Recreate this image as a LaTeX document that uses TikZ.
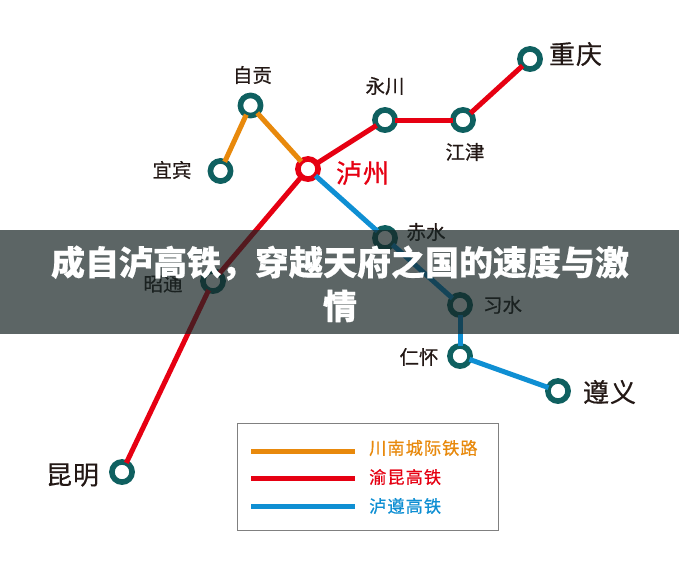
\documentclass[tikz,border=0pt]{standalone}
\usepackage{fontspec}
\newfontfamily\cjk{Noto Sans CJK SC}
\definecolor{teal1}{HTML}{0F6060}
\definecolor{org}{HTML}{E8890C}
\definecolor{rd}{HTML}{E60012}
\definecolor{blu}{HTML}{0F8FD3}
\definecolor{ink}{HTML}{231815}
\definecolor{veil}{RGB}{23,37,37}
\tikzset{
 stn/.style={circle,draw=teal1,line width=5.6pt,fill=white,minimum size=20.2pt,inner sep=0pt,outer sep=0pt},
 hub/.style={stn,draw=rd},
 lbl/.style={inner sep=0pt,text=ink,font=\cjk\addfontfeature{FakeBold=0.5}\fontsize{19.5}{19.5}\selectfont},
 big/.style={inner sep=0pt,text=ink,font=\cjk\addfontfeature{LetterSpace=4,FakeBold=0.5}\fontsize{26}{26}\selectfont},
 leg/.style={inner sep=0pt,anchor=west,font=\cjk\addfontfeature{LetterSpace=6,FakeBold=0.5}\fontsize{17.2}{17.2}\selectfont},
 rail/.style={line width=5pt},
 keyline/.style={line width=5pt},
 ttl/.style={inner sep=0pt,text=white,font=\cjk\bfseries\addfontfeature{FakeBold=0.5}\fontsize{34}{34}\selectfont},
}
\begin{document}
\begin{tikzpicture}[x=1pt,y=-1pt]
\useasboundingbox (0,0) rectangle (679,565);
\fill[white] (0,0) rectangle (679,565);
\node[stn] (zg) at (250.5,105.5) {};
\node[stn] (yb) at (220.5,171) {};
\node[hub] (lz) at (308,169) {};
\node[stn] (yc) at (385,120) {};
\node[stn] (jj) at (463,120) {};
\node[stn] (cq) at (530,59) {};
\node[stn] (cs) at (385,238) {};
\node[stn] (zt) at (213,281) {};
\node[stn] (xs) at (460,305) {};
\node[stn] (rh) at (460,356) {};
\node[stn] (zy) at (558,391) {};
\node[stn] (km) at (122,472) {};
\draw[rail,org] (yb) -- (zg);
\draw[rail,org] (zg) -- (lz);
\draw[rail,rd] (km) -- (zt);
\draw[rail,rd] (zt) -- (lz);
\draw[rail,rd] (lz) -- (yc);
\draw[rail,rd] (yc) -- (jj);
\draw[rail,rd] (jj) -- (cq);
\draw[rail,blu] (lz) -- (cs);
\draw[rail,blu] (cs) -- (xs);
\draw[rail,blu] (xs) -- (rh);
\draw[rail,blu] (rh) -- (zy);
\node[lbl] (tzg) at (252.5,75) {自贡};
\node[lbl] (tyb) at (172,170) {宜宾};
\node[lbl] (tyc) at (385,86) {永川};
\node[lbl] (tjj) at (465,152) {江津};
\node[lbl] (tcs) at (426,232) {赤水};
\node[lbl] (tzt) at (163,284) {昭通};
\node[lbl] (txs) at (502.5,305) {习水};
\node[lbl] (trh) at (419,357) {仁怀};
\node[big] (tcq) at (575.5,54) {重庆};
\node[big] (tzy) at (609.5,392) {遵义};
\node[big] (tkm) at (72.5,475) {昆明};
\node[big,text=rd,font=\cjk\addfontfeature{LetterSpace=4,FakeBold=0.8}\fontsize{26}{26}\selectfont] (tlz) at (362.5,173) {泸州};
\node[draw=black!50,line width=1pt,minimum width=261pt,minimum height=107pt,inner sep=0pt] (box) at (367.5,476.5) {};
\coordinate (a1) at (251,451);\coordinate (a2) at (355,451);
\coordinate (b1) at (251,478.5);\coordinate (b2) at (355,478.5);
\coordinate (c1) at (251,506);\coordinate (c2) at (355,506);
\draw[keyline,org] (a1) -- (a2);
\draw[keyline,rd] (b1) -- (b2);
\draw[keyline,blu] (c1) -- (c2);
\node[leg,text=org] (ta) at (369,448) {川南城际铁路};
\node[leg,text=rd] (tb) at (369,477) {渝昆高铁};
\node[leg,text=blu] (tc) at (369,506) {泸遵高铁};
\fill[veil,opacity=.7] (0,230) rectangle (679,334);
\node[ttl] (t1) at (340,263) {成自泸高铁，穿越天府之国的速度与激};
\node[ttl] (t2) at (340,306) {情};
\end{tikzpicture}
\end{document}
